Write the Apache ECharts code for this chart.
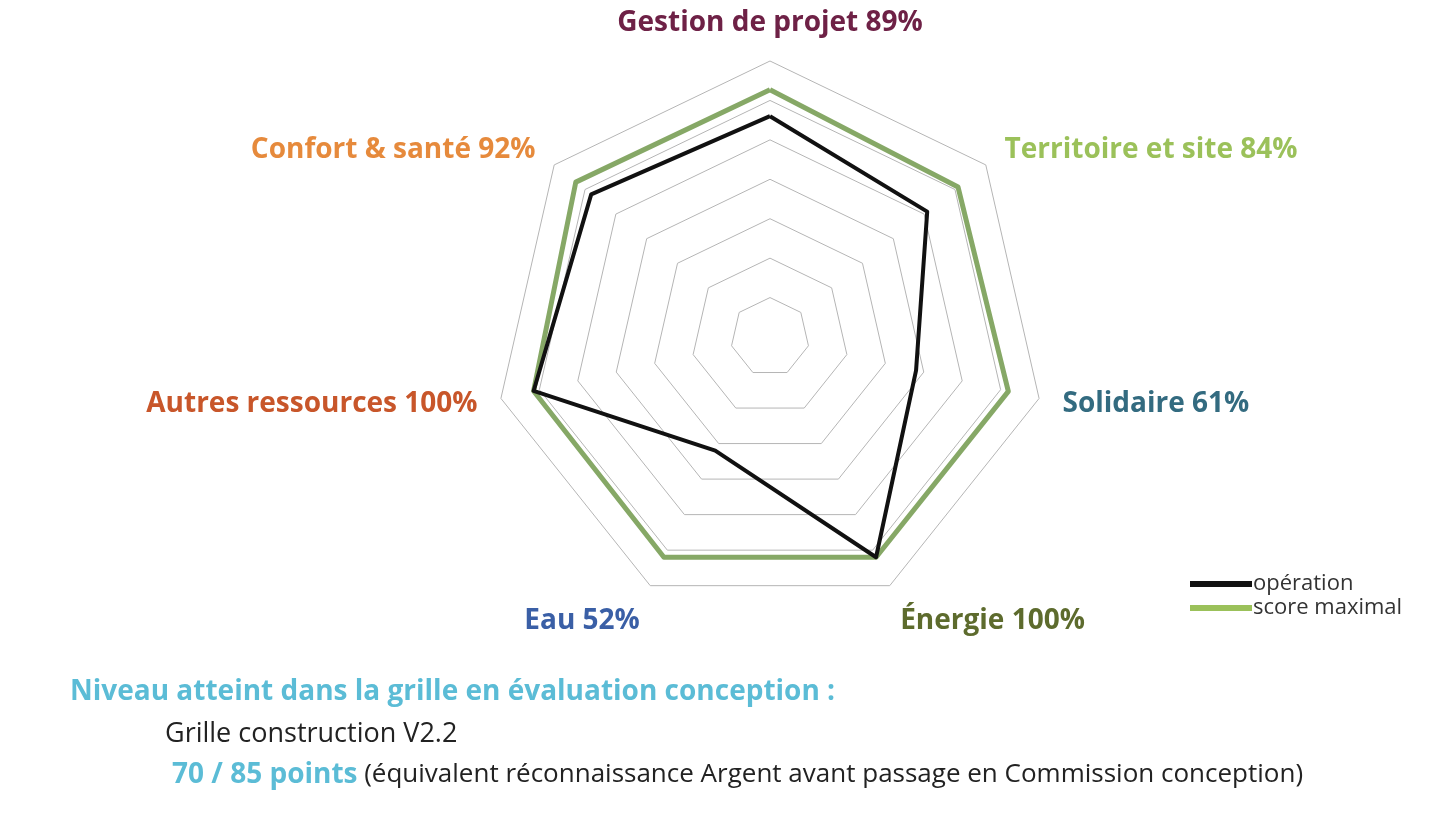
<!DOCTYPE html>
<html>
<head>
<meta charset="utf-8">
<script src="https://cdn.jsdelivr.net/npm/echarts@6/dist/echarts.min.js"></script>
<style>
  html, body { margin: 0; padding: 0; background: #fff; }
  #chart { width: 1440px; height: 816px; }
</style>
</head>
<body>
<div id="chart"></div>
<script>
// axes listed counter-clockwise from the top (ECharts radar order)
var axes = ['Gestion de projet 89%', 'Confort & santé 92%', 'Autres ressources 100%', 'Eau 52%', 'Énergie 100%', 'Solidaire 61%', 'Territoire et site 84%']
var axisColors = ['#6e2146', '#e68a3c', '#c8562a', '#3a5fa6', '#5d6b2d', '#336b80', '#9bc15a']
var operation = [5.6, 5.8, 6.15, 3.2, 6.2, 3.8, 5.1]
var scoreMax = [6.27, 6.3, 6.15, 6.2, 6.2, 6.2, 6.1]
var axisMax = 7

var chart = echarts.init(document.getElementById('chart'))

var indicators = axes.map(function (name) {
  return { name: name, max: axisMax }
})

// one rich style per axis label, bottom labels pushed down a bit
var nameRich = {}
axisColors.forEach(function (c, i) {
  nameRich['c' + i] = {
    color: c, fontFamily: 'Open Sans', fontWeight: 'bold', fontSize: 28,
    padding: (i === 3 || i === 4) ? [28, 0, 0, 0] : 0
  }
})

chart.setOption({
  animation: false,
  legend: {
    orient: 'vertical',
    left: 1185,
    top: 568,
    itemGap: 2,
    itemWidth: 62,
    itemHeight: 6,
    icon: 'rect',
    textStyle: { fontFamily: 'Open Sans', fontSize: 22, color: '#333', padding: [0, 0, 0, -4] },
    data: ['opération', 'score maximal']
  },
  radar: {
    center: [770, 337],
    radius: 276,
    shape: 'polygon',
    splitNumber: 7,
    indicator: indicators,
    axisNameGap: 24,
    axisName: {
      formatter: function (name) {
        return '{c' + axes.indexOf(name) + '|' + name + '}'
      },
      rich: nameRich
    },
    axisLine: { show: false },
    axisTick: { show: false },
    splitArea: { show: false },
    splitLine: { lineStyle: { color: '#b5b5b5', width: 1 } }
  },
  series: [{
    type: 'radar',
    symbol: 'none',
    data: [
      { name: 'score maximal', value: scoreMax,
        lineStyle: { color: '#86a866', width: 5 }, itemStyle: { color: '#9bc15a' } },
      { name: 'opération', value: operation,
        lineStyle: { color: '#111', width: 4 }, itemStyle: { color: '#111' } }
    ]
  }],
  graphic: [
    { type: 'text', left: 70, top: 678,
      style: { text: 'Niveau atteint dans la grille en évaluation conception :', fill: '#5bbcd6',
        font: 'bold 28px "Open Sans"' } },
    { type: 'text', left: 165, top: 721,
      style: { text: 'Grille construction V2.2', fill: '#222', font: '27px "Open Sans"' } },
    { type: 'text', left: 172, top: 761,
      style: {
        text: '{a|70 / 85 points}  {b|(équivalent réconnaissance Argent avant passage en Commission conception)}',
        rich: {
          a: { fill: '#5bbcd6', font: 'bold 28px "Open Sans"' },
          b: { fill: '#222', font: '26px "Open Sans"' }
        }
      } }
  ]
})
</script>
</body>
</html>
